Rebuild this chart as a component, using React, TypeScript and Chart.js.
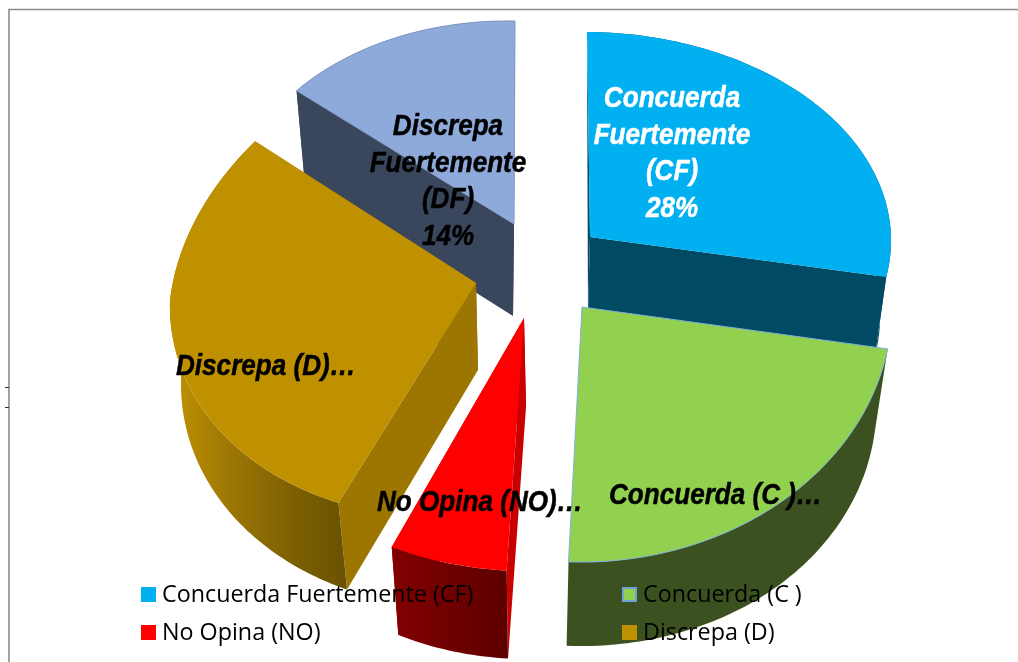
import React, { useEffect, useRef } from "react";
import { Chart, registerables } from "chart.js";

Chart.register(...registerables);

const categories = [
  "Concuerda Fuertemente (CF)",
  "Concuerda (C )",
  "No Opina (NO)",
  "Discrepa (D)",
  "Discrepa Fuertemente (DF)",
];
const shares = [28, 23, 6, 29, 14];
const sliceColors = ["#00b0f0", "#92d050", "#ff0000", "#bf9000", "#8eaadb"];
const dataLabels = [
  ["Concuerda", "Fuertemente", "(CF)", "28%"],
  ["Concuerda (C )…"],
  ["No Opina (NO)…"],
  ["Discrepa (D)…"],
  ["Discrepa", "Fuertemente", "(DF)", "14%"],
];

type Face = { cx: number; cy: number; rx: number; rxT?: number; ryT: number; ryB: number; kx: number; ky: number };
type Look = {
  top: Face;
  bot: Face;
  wallStart: string | null;
  wallEnd: string | null;
  rim: [number, string][];
  rimFrom: number;
  rimTo: number;
  stroke?: string;
};

const looks: Look[] = [
  {
    top: { cx: 590, cy: 237, rx: 301, ryT: 205, ryB: 205, kx: 3, ky: 1.6 },
    bot: { cx: 588, cy: 315, rx: 292, ryT: 275, ryB: 200, kx: 1, ky: 2.7 },
    wallStart: "#004a63", wallEnd: "#004a63", rim: [[0, "#004a63"], [1, "#004a63"]], rimFrom: 590, rimTo: 890,
  },
  {
    top: { cx: 582, cy: 307, rx: 310, ryT: 255, ryB: 255, kx: 6, ky: -6 },
    bot: { cx: 568, cy: 394, rx: 308, ryT: 252, ryB: 252, kx: 18, ky: -4 },
    wallStart: null, wallEnd: null, rim: [[0, "#3b5220"], [1, "#3b5220"]], rimFrom: 560, rimTo: 890,
    stroke: "#7fb0d8",
  },
  {
    top: { cx: 524, cy: 318, rx: 316, ryT: 253, ryB: 253, kx: 2.5, ky: 0 },
    bot: { cx: 526, cy: 407, rx: 302, ryT: 252, ryB: 252, kx: 1, ky: 0 },
    wallStart: "#c80000", wallEnd: "#c80000", rim: [[0, "#820000"], [1, "#5c0000"]], rimFrom: 392, rimTo: 510,
  },
  {
    top: { cx: 476, cy: 283, rx: 306, rxT: 286, ryT: 243, ryB: 235, kx: -8, ky: -17 },
    bot: { cx: 478, cy: 370, rx: 297, ryT: 235, ryB: 238, kx: -5, ky: -10 },
    wallStart: "#9c7600", wallEnd: "#9c7600",
    rim: [[0, "#bf9000"], [0.35, "#9a7505"], [0.7, "#7d6003"], [1, "#6a5203"]], rimFrom: 175, rimTo: 345,
  },
  {
    top: { cx: 514, cy: 224, rx: 283, ryT: 203, ryB: 203, kx: -1, ky: 5 },
    bot: { cx: 513, cy: 316, rx: 270, ryT: 200, ryB: 200, kx: 0, ky: 5 },
    wallStart: "#3a465c", wallEnd: "#3a465c", rim: [[0, "#3a465c"], [1, "#3a465c"]], rimFrom: 300, rimTo: 515,
    stroke: "#8298c4",
  },
];

const drawOrder = [4, 0, 3, 2, 1];
const labelSpots = [
  { x: 672, y: 107, center: true, color: "#ffffff" },
  { x: 609, y: 504, center: false, color: "#000000" },
  { x: 377, y: 511, center: false, color: "#000000" },
  { x: 176, y: 375, center: false, color: "#000000" },
  { x: 448, y: 135, center: true, color: "#000000" },
];
const legendSpots = [
  { x: 141, y: 587 },
  { x: 622, y: 587 },
  { x: 141, y: 625 },
  { x: 622, y: 625 },
];

function pt(f: Face, a: number): [number, number] {
  const c = Math.cos(a);
  const s = Math.sin(a);
  const ry = c > 0 ? f.ryT : f.ryB;
  const rx = c > 0 && f.rxT ? f.rx + (f.rxT - f.rx) * c : f.rx;
  return [f.cx + rx * s - f.kx * c, f.cy - ry * c + f.ky * s];
}

function rimPoints(f: Face, a0: number, a1: number) {
  const out: [number, number][] = [];
  const n = Math.max(4, Math.ceil(Math.abs(a1 - a0) / 0.02));
  for (let i = 0; i <= n; i++) out.push(pt(f, a0 + ((a1 - a0) * i) / n));
  return out;
}

function poly(ctx: CanvasRenderingContext2D, pts: [number, number][], fill: any, stroke?: string) {
  ctx.beginPath();
  pts.forEach((p, i) => (i ? ctx.lineTo(p[0], p[1]) : ctx.moveTo(p[0], p[1])));
  ctx.closePath();
  ctx.fillStyle = fill;
  ctx.fill();
  if (stroke) {
    ctx.strokeStyle = stroke;
    ctx.lineWidth = 1;
    ctx.stroke();
  }
}

const pie3d = {
  id: "pie3d",
  beforeDatasetDraw() {
    return false;
  },
  afterDraw(chart: any) {
    const ctx: CanvasRenderingContext2D = chart.ctx;
    const arcs = chart.getDatasetMeta(0).data;
    ctx.save();

    // frame
    ctx.strokeStyle = "#8c8c8c";
    ctx.lineWidth = 1.6;
    ctx.beginPath();
    ctx.moveTo(9, 662);
    ctx.lineTo(9, 9.5);
    ctx.lineTo(1018, 9.5);
    ctx.stroke();
    ctx.strokeStyle = "#333333";
    ctx.lineWidth = 1;
    ctx.beginPath();
    ctx.moveTo(5, 387.5);
    ctx.lineTo(9, 387.5);
    ctx.moveTo(5, 407.5);
    ctx.lineTo(9, 407.5);
    ctx.stroke();

    // slices, taking their angles from the library's arc elements
    drawOrder.forEach((i) => {
      const l = looks[i];
      const a0 = arcs[i].startAngle + Math.PI / 2;
      const a1 = arcs[i].endAngle + Math.PI / 2;
      if (l.wallEnd) poly(ctx, [[l.top.cx, l.top.cy], pt(l.top, a1), pt(l.bot, a1), [l.bot.cx, l.bot.cy]], l.wallEnd);
      if (l.wallStart) poly(ctx, [[l.top.cx, l.top.cy], pt(l.top, a0), pt(l.bot, a0), [l.bot.cx, l.bot.cy]], l.wallStart);
      const g = ctx.createLinearGradient(l.rimFrom, 0, l.rimTo, 0);
      l.rim.forEach(([o, c]) => g.addColorStop(o, c));
      poly(ctx, [...rimPoints(l.top, a0, a1), ...rimPoints(l.bot, a1, a0)], g);
      poly(ctx, [[l.top.cx, l.top.cy], ...rimPoints(l.top, a0, a1)], sliceColors[i], l.stroke);
    });

    // legend (the fifth entry does not fit, as in the picture)
    legendSpots.forEach((s, idx) => {
      if (idx === 1) {
        ctx.fillStyle = "#6fa3d6";
        ctx.fillRect(s.x, s.y, 15, 15);
        ctx.fillStyle = sliceColors[idx];
        ctx.fillRect(s.x + 2, s.y + 2, 11, 11);
      } else {
        ctx.fillStyle = sliceColors[idx];
        ctx.fillRect(s.x, s.y, 15, 15);
      }
      ctx.fillStyle = "#000000";
      ctx.font = '23.3px "Open Sans"';
      ctx.textAlign = "left";
      ctx.textBaseline = "alphabetic";
      ctx.fillText(categories[idx], s.x + 21, s.y + 15);
    });

    // data labels
    ctx.font = 'italic bold 30px "Liberation Sans"';
    dataLabels.forEach((lines, i) => {
      const spot = labelSpots[i];
      ctx.fillStyle = spot.color;
      ctx.strokeStyle = spot.color;
      ctx.lineWidth = 0.5;
      lines.forEach((t, k) => {
        ctx.save();
        ctx.translate(spot.x, spot.y + k * 36.5);
        ctx.scale(0.87, 1);
        ctx.textAlign = spot.center ? "center" : "left";
        ctx.fillText(t, 0, 0);
        ctx.strokeText(t, 0, 0);
        ctx.restore();
      });
    });
    ctx.restore();
  },
};

export default function App() {
  const ref = useRef<HTMLCanvasElement>(null);
  useEffect(() => {
    const chart = new Chart(ref.current as HTMLCanvasElement, {
      type: "pie",
      data: {
        labels: categories,
        datasets: [{ data: shares, backgroundColor: sliceColors, borderWidth: 0 }],
      },
      options: {
        responsive: false,
        animation: false,
        layout: { padding: 0 },
        plugins: { legend: { display: false }, tooltip: { enabled: false } },
      },
      plugins: [pie3d],
    } as any);
    return () => chart.destroy();
  }, []);
  return (
    <div style={{ position: "absolute", left: 0, top: 0, width: 1018, height: 662, background: "#fff", overflow: "hidden" }}>
      <canvas ref={ref} width={1018} height={662} style={{ display: "block" }} />
    </div>
  );
}
